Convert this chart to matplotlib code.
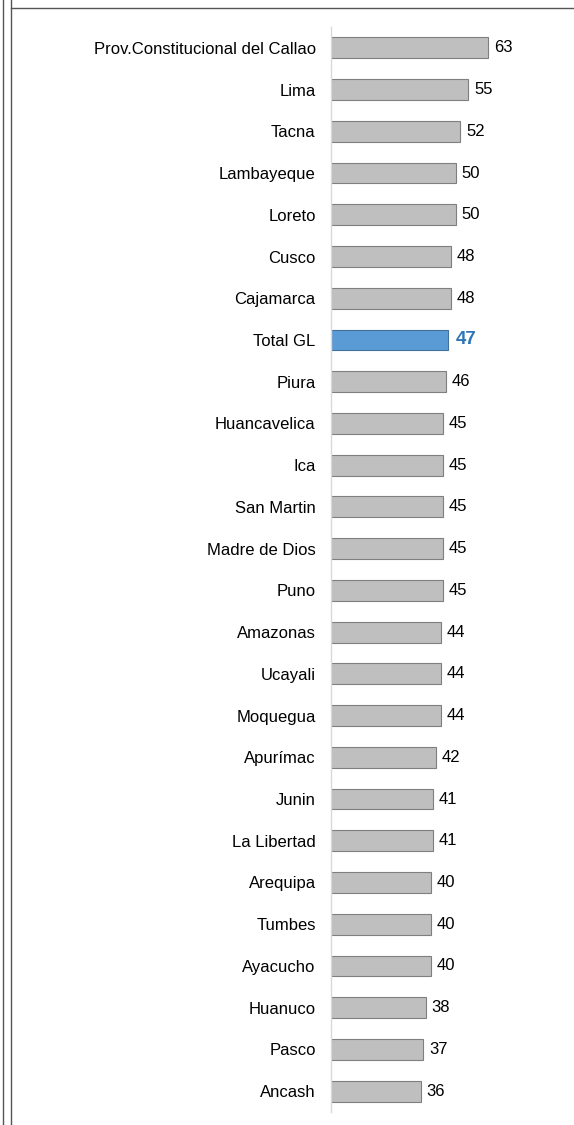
import matplotlib.pyplot as plt
from matplotlib.lines import Line2D

# datos
regiones = ["Prov.Constitucional del Callao", "Lima", "Tacna", "Lambayeque", "Loreto",
            "Cusco", "Cajamarca", "Total GL", "Piura", "Huancavelica", "Ica", "San Martin",
            "Madre de Dios", "Puno", "Amazonas", "Ucayali", "Moquegua", "Apurímac", "Junin",
            "La Libertad", "Arequipa", "Tumbes", "Ayacucho", "Huanuco", "Pasco", "Ancash"]
valores = [63, 55, 52, 50, 50, 48, 48, 47, 46, 45, 45, 45, 45, 45, 44, 44, 44, 42, 41,
           41, 40, 40, 40, 38, 37, 36]
destacado = "Total GL"

plt.rcParams['font.family'] = ['Liberation Sans Narrow', 'Liberation Sans', 'DejaVu Sans']

fig = plt.figure(figsize=(5.74, 11.25), dpi=100)
ax = fig.add_axes([331 / 574, 1 - 1112 / 1125, 243 / 574, 1085 / 1125])

y = list(range(len(regiones)))
colores = ["#5B9BD5" if r == destacado else "#BFBFBF" for r in regiones]
bordes = ["#41719C" if r == destacado else "#7F7F7F" for r in regiones]
ax.barh(y, valores, height=0.5, color=colores, edgecolor=bordes, linewidth=0.8)

for yi, v, r in zip(y, valores, regiones):
    if r == destacado:
        ax.text(v + 3, yi, str(v), va='center', ha='left', fontsize=13.5,
                fontweight='bold', color="#2E75B6")
    else:
        ax.text(v + 2.4, yi, str(v), va='center', ha='left', fontsize=12, color="#000000")

ax.set_yticks(y)
ax.set_yticklabels(regiones, fontsize=12)
ax.tick_params(axis='y', length=0, pad=11)
ax.set_xticks([])
ax.set_xlim(0, 243 / 2.49)
ax.set_ylim(len(regiones) - 0.5, -0.5)
for s in ['top', 'right', 'bottom']:
    ax.spines[s].set_visible(False)
ax.spines['left'].set_color("#D9D9D9")
ax.spines['left'].set_linewidth(1)

# marco
for x in (3, 10.5):
    fig.add_artist(Line2D([x / 574, x / 574], [0, 1], color="#555555", lw=1))
fig.add_artist(Line2D([10.5 / 574, 1], [1 - 8 / 1125, 1 - 8 / 1125], color="#555555", lw=1))

fig.savefig("out.png", dpi=100)
